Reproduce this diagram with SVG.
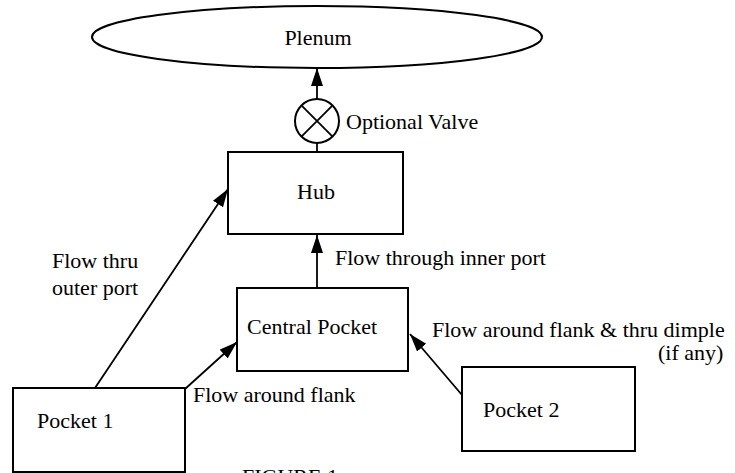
<svg xmlns="http://www.w3.org/2000/svg" width="735" height="473" viewBox="0 0 735 473">
<defs>
<marker id="ah" markerUnits="userSpaceOnUse" markerWidth="20" markerHeight="14" refX="18" refY="6" orient="auto">
<path d="M0,0 L18,6 L0,12 Z" fill="#000"/>
</marker>
</defs>
<style>
text{font-family:"Liberation Serif","Times New Roman",serif;font-size:22px;fill:#000}
.box{fill:none;stroke:#000;stroke-width:2}
.c{fill:none;stroke:#000;stroke-width:1.8}
.a{marker-end:url(#ah)}
</style>
<rect width="735" height="473" fill="#fff"/>
<g id="plenum">
<ellipse class="box" cx="317" cy="37" rx="225" ry="31"/>
<text x="318" y="45" text-anchor="middle">Plenum</text>
</g>
<g id="valve">
<circle class="box" cx="317" cy="121" r="22"/>
<path class="c" d="M301.4,105.4 L332.6,136.6 M332.6,105.4 L301.4,136.6"/>
<text x="346" y="129">Optional Valve</text>
</g>
<g id="hub">
<rect class="box" x="228" y="152" width="175" height="82"/>
<text x="316" y="199" text-anchor="middle">Hub</text>
</g>
<g id="central">
<rect class="box" x="237" y="288" width="171" height="83"/>
<text x="247" y="334">Central Pocket</text>
</g>
<g id="pocket1">
<rect class="box" x="13" y="388" width="172" height="84"/>
<text x="37" y="428">Pocket 1</text>
</g>
<g id="pocket2">
<rect class="box" x="462" y="367" width="173" height="84"/>
<text x="483" y="417">Pocket 2</text>
</g>
<g id="connectors">
<line class="c a" x1="317" y1="99" x2="317" y2="68"/>
<line class="c" x1="317" y1="143" x2="317" y2="152"/>
<line class="c a" x1="317" y1="288" x2="317" y2="235"/>
<line class="c a" x1="95" y1="388" x2="228" y2="189"/>
<line class="c a" x1="185" y1="389" x2="237" y2="342"/>
<line class="c a" x1="462" y1="395" x2="410" y2="334"/>
</g>
<g id="labels">
<text x="52" y="268">Flow thru</text>
<text x="52" y="295">outer port</text>
<text x="335" y="265">Flow through inner port</text>
<text x="193" y="402">Flow around flank</text>
<text x="432" y="337">Flow around flank &amp; thru dimple</text>
<text x="658" y="360">(if any)</text>
<text x="242" y="484">FIGURE 1</text>
</g>
</svg>
